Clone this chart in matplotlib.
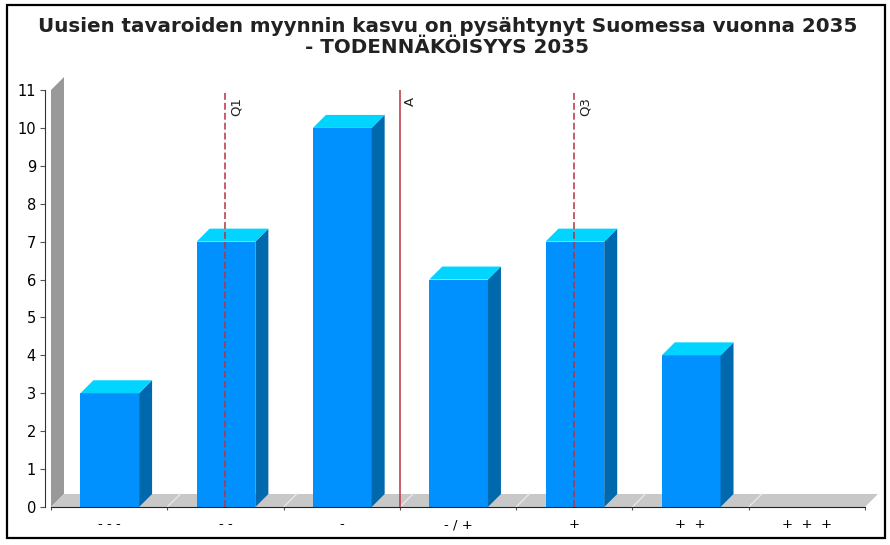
import matplotlib
matplotlib.use('Agg')
import matplotlib.pyplot as plt
from matplotlib.patches import Rectangle

categories = ['- - -', '- -', '-', '- / +', '+', '+  +', '+  +  +']
counts = [3, 7, 10, 6, 7, 4, 0]
y_ticks = list(range(0, 12))
q1 = 1.5
mean_a = 3.0
q3 = 4.5
title_1 = 'Uusien tavaroiden myynnin kasvu on pysähtynyt Suomessa vuonna 2035'
title_2 = '- TODENNÄKÖISYYS 2035'

W, H = 890, 545
dpi = 100

fig = plt.figure(figsize=(W / dpi, H / dpi), dpi=dpi)
ax = fig.add_axes([51 / W, 1 - 507 / H, (865 - 51) / W, (507 - 90) / H])
ax.set_xlim(0, len(categories))
ax.set_ylim(0, 11)

# depth of the fake 3d look, in data units
dx = 13 / (814 / 7)
dy = 13 / (417 / 11)
n = len(categories)

# wall and floor
ax.fill([0, dx, dx, 0], [0, dy, 11 + dy, 11], color='#999999', lw=0, clip_on=False, zorder=1)
ax.fill([0, n, n + dx, dx], [0, 0, dy, dy], color='#c8c8c8', lw=0, clip_on=False, zorder=1)
for i in range(1, n):
    ax.plot([i, i + dx], [0, dy], color='#e8e8e8', lw=1, clip_on=False, zorder=1.5)

# bars
width = 0.505
for i, v in enumerate(counts):
    if v == 0:
        continue
    left = i + 0.505 - width / 2
    right = left + width
    ax.bar(left + width / 2, v, width=width, color='#0091ff', lw=0, zorder=2)
    ax.fill([right, right + dx, right + dx, right], [0, dy, v + dy, v],
            color='#0068ad', lw=0, clip_on=False, zorder=2)
    ax.fill([left, left + dx, right + dx, right], [v, v + dy, v + dy, v],
            color='#00d4ff', lw=0, clip_on=False, zorder=2)

# quartiles and mean
ax.axvline(q1, color='#b8323f', lw=1.1, ls=(0, (4.5, 2)), zorder=3)
ax.axvline(mean_a, color='#b8323f', lw=1.1, zorder=3)
ax.axvline(q3, color='#b8323f', lw=1.1, ls=(0, (4.5, 2)), zorder=3)
for x, label in [(q1, 'Q1'), (mean_a, 'A'), (q3, 'Q3')]:
    ax.annotate(label, (x, 11), xytext=(3, -5), textcoords='offset points',
                rotation=90, fontsize=9.5, va='top', ha='left', color='#222222')

ax.set_xticks(range(n + 1))
ax.set_xticklabels([])
ax.set_xticks([i + 0.5 for i in range(n)], categories, minor=True)
ax.tick_params(axis='x', which='major', length=2.5, width=0.8, color='#555555')
ax.tick_params(axis='x', which='minor', length=0, pad=8, labelsize=9.5)
ax.set_yticks(y_ticks)
ax.tick_params(axis='y', length=3.5, width=0.8, color='#555555', pad=3, labelsize=10.5)

for s in ['top', 'right']:
    ax.spines[s].set_visible(False)
ax.spines['left'].set_position(('outward', 4.3))
ax.spines['left'].set_color('#333333')
ax.spines['bottom'].set_color('#222222')
ax.patch.set_alpha(0)

fig.text(447.5 / W, 1 - 27 / H, title_1, ha='center', va='center', fontsize=14.35, color='#222222',
         fontweight='bold')
fig.text(447.5 / W, 1 - 47 / H, title_2, ha='center', va='center', fontsize=14.35, color='#222222',
         fontweight='bold')

# outer frame
fig.add_artist(Rectangle((6.5 / W, 1 - 538 / H), 878 / W, 533 / H, transform=fig.transFigure,
                         fill=False, ec='black', lw=1.6))

fig.savefig('out.png', dpi=dpi)
